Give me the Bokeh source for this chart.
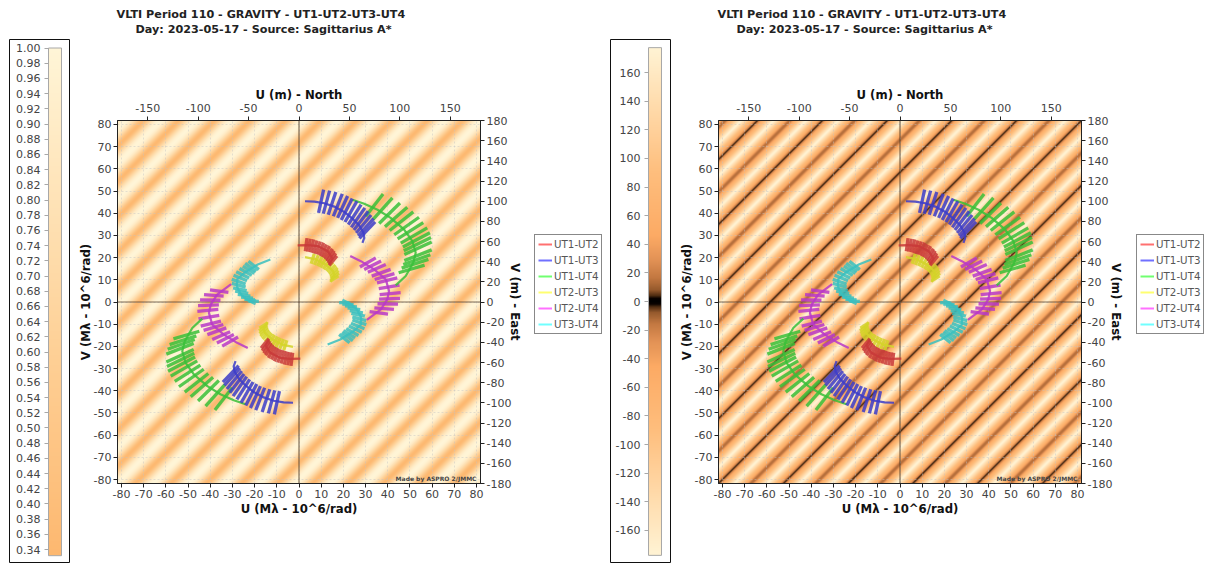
import numpy as np
from bokeh.embed import file_html
from bokeh.resources import INLINE
from bokeh.layouts import row
from bokeh.plotting import figure
from bokeh.models import (LinearAxis, Range1d, FixedTicker, Title, Span, Label, Legend, LegendItem,
                          LinearColorMapper, PrintfTickFormatter)

TITLE_LINE_1 = "VLTI Period 110 - GRAVITY - UT1-UT2-UT3-UT4"
TITLE_LINE_2 = "Day: 2023-05-17 - Source: Sagittarius A*"
BASELINES = ["UT1-UT2", "UT1-UT3", "UT1-UT4", "UT2-UT3", "UT2-UT4", "UT3-UT4"]
LINE_COLORS = ["#c83838", "#3c3cc8", "#38c038", "#d4d428", "#b838c8", "#38c0c0"]
LEGEND_COLORS = ["#ff7070", "#7070ff", "#70ff70", "#ffff70", "#ff70ff", "#70ffff"]

UV_MAX = 81.8
METRES_MAX = 180
SPECTRAL_RATIO = 1.26
AMP_RANGE = (0.332, 1.0)
AMP_VIEW = (0.3217, 1.0112)
PHASE_RANGE = (-177.5, 177.5)
PHASE_VIEW = (-183.2, 183.2)
AMP_PERIOD = 16.0
AMP_RATIO = 0.49
PHASE_PERIOD = 14.6

# Tracks (thin lines), U and V in Mlambda, one half of the symmetric coverage
TRACK_U = {
    "UT1-UT2": [-0.6, 3.9, 8.4, 12.9, 15.1, 13.6],
    "UT1-UT3": [2.7, 6.9, 11.4, 15.9, 20.4, 24.1, 27.1, 29.1, 29.4, 28.6],
    "UT1-UT4": [24.1, 29.4, 35.4, 41.3, 47.3, 51.1, 52.6, 51.5, 48.1, 43.6],
    "UT2-UT3": [2.7, 7.6, 12.1, 15.3, 16.0, 14.1],
    "UT2-UT4": [23.1, 27.9, 33.9, 39.1, 40.6, 39.8, 36.9, 30.6],
    "UT3-UT4": [19.6, 23.0, 26.1, 28.0, 27.9, 24.6, 18.6, 12.9],
}
TRACK_V = {
    "UT1-UT2": [25.5, 25.6, 25.2, 22.9, 19.6, 16.9],
    "UT1-UT3": [45.4, 45.2, 44.5, 43.0, 40.6, 37.6, 34.6, 31.2, 28.9, 26.7],
    "UT1-UT4": [46.1, 44.3, 41.6, 37.9, 32.7, 27.4, 22.2, 17.7, 11.7, 7.5],
    "UT2-UT3": [20.2, 19.2, 16.9, 14.0, 12.0, 9.1],
    "UT2-UT4": [20.7, 18.4, 14.7, 10.2, 4.9, 1.2, -3.3, -8.1],
    "UT3-UT4": [1.0, -0.7, -3.4, -7.0, -10.2, -13.2, -16.9, -19.2],
}
# Spectral bars: outer end of each bar (longest baseline / shortest wavelength)
BAR_U = {
    "UT1-UT2": [3.6, 5.1, 6.6, 8.1, 9.6, 11.1, 12.4, 13.8, 15.0, 15.9, 16.6, 17.1],
    "UT1-UT3": [11.1, 13.8, 16.6, 19.5, 21.9, 24.0, 26.1, 28.0, 29.7, 31.2, 32.5, 33.6, 34.3],
    "UT1-UT4": [37.9, 42.1, 45.5, 48.8, 51.5, 54.1, 56.0, 57.8, 59.0, 59.5, 59.8, 59.8, 59.2, 58.3, 56.6],
    "UT2-UT3": [6.9, 8.7, 10.5, 12.1, 13.8, 15.3, 16.5, 17.4, 17.8, 18.0, 17.8],
    "UT2-UT4": [34.6, 37.0, 39.1, 41.3, 43.0, 44.3, 45.3, 45.8, 45.5, 44.6, 42.8, 40.1],
    "UT3-UT4": [22.8, 24.3, 25.3, 26.8, 28.3, 29.5, 30.3, 30.3, 29.7, 28.8, 27.6, 26.1, 24.6, 22.8],
}
BAR_V = {
    "UT1-UT2": [28.8, 28.5, 28.2, 27.7, 27.3, 26.7, 25.9, 25.2, 24.1, 23.1, 22.0, 20.8],
    "UT1-UT3": [50.6, 50.2, 49.6, 48.7, 47.8, 46.6, 45.4, 43.9, 42.4, 40.9, 39.2, 37.6, 36.1],
    "UT1-UT4": [48.7, 46.9, 44.6, 42.7, 40.6, 38.2, 35.8, 33.4, 31.2, 29.1, 27.0, 23.5, 21.3, 19.2, 16.6],
    "UT2-UT3": [21.7, 21.1, 20.5, 19.6, 18.7, 17.8, 16.6, 15.4, 14.2, 13.0, 11.8],
    "UT2-UT4": [19.9, 18.5, 16.9, 14.7, 12.8, 10.9, 7.6, 4.2, 1.6, -1.0, -3.3, -5.5],
    "UT3-UT4": [-18.4, -17.4, -16.2, -15.1, -13.6, -12.1, -10.2, -8.4, -6.4, -4.9, -3.4, -2.2, -1.2, -0.4],
}

FONT = "DejaVu Sans"
AMP_TICKS = [round(0.34 + 0.02 * i, 2) for i in range(34)]
PHASE_TICKS = list(range(-160, 161, 20))
UV_TICKS = list(range(-80, 81, 10))
METRE_TOP_TICKS = list(range(-150, 151, 50))
METRE_RIGHT_TICKS = list(range(-180, 181, 20))

AMP_STOPS = [0.332, 0.6, 1.0]
AMP_STOP_RGB = [(253, 184, 112), (254, 208, 150), (255, 245, 215)]
PHASE_STOPS = [0, 2, 4, 8, 16, 28, 45, 90, 130, 180]
PHASE_STOP_RGB = [(0, 0, 0), (10, 3, 0), (80, 45, 18), (150, 90, 45), (195, 120, 65),
                  (225, 145, 85), (252, 170, 100), (254, 190, 125), (255, 215, 165), (255, 245, 215)]


def palette(xs, stops, rgb):
    arr = np.array(rgb, float)
    ch = [np.interp(xs, stops, arr[:, i]).round().astype(int) for i in range(3)]
    return ["#%02x%02x%02x" % (r, g, b) for r, g, b in zip(*ch)]


amp_mapper = LinearColorMapper(palette=palette(np.linspace(*AMP_RANGE, 256), AMP_STOPS, AMP_STOP_RGB),
                               low=AMP_RANGE[0], high=AMP_RANGE[1])
phase_xs = np.linspace(-180, 180, 1024)
phase_mapper = LinearColorMapper(palette=palette(np.abs(phase_xs), PHASE_STOPS, PHASE_STOP_RGB),
                                 low=-180, high=180)

axis_u = (np.arange(363) + 0.5) / 363 * 2 * UV_MAX - UV_MAX
U, V = np.meshgrid(axis_u, axis_u)
S = U - V
amp_img = np.sqrt(1 + AMP_RATIO**2 + 2 * AMP_RATIO * np.cos(2 * np.pi * S / AMP_PERIOD)) / (1 + AMP_RATIO)
fringe = np.round(S / PHASE_PERIOD)
phase_img = (S / PHASE_PERIOD - fringe) * 360
odd = np.mod(fringe, 2) == 1
phase_img = np.where(odd, np.sign(phase_img + 1e-9) * np.maximum(np.abs(phase_img), 14), phase_img)
phase_img = np.where(~odd & (np.abs(phase_img) < 6), 0, phase_img)


def style_axis(ax, label=None, tick_standoff=2, label_standoff=1):
    ax.axis_line_color = "#222222"
    ax.major_tick_line_color = "#222222"
    ax.major_tick_out = 4
    ax.major_tick_in = 0
    ax.minor_tick_line_color = None
    ax.major_label_text_font = FONT
    ax.major_label_text_font_size = "11px"
    ax.major_label_text_color = "#444444"
    ax.major_label_standoff = tick_standoff
    ax.formatter = PrintfTickFormatter(format="%d")
    if label:
        ax.axis_label = label
        ax.axis_label_text_font = FONT
        ax.axis_label_text_font_size = "11.7px"
        ax.axis_label_text_font_style = "bold"
        ax.axis_label_text_color = "#111111"
        ax.axis_label_standoff = label_standoff


def main_panel(image, mapper):
    p = figure(width=459, height=563, output_backend="svg", toolbar_location=None,
               x_range=Range1d(-UV_MAX, UV_MAX), y_range=Range1d(-UV_MAX, UV_MAX),
               min_border_left=46, min_border_right=50, min_border_top=120, min_border_bottom=80,
               x_axis_label=None, y_axis_label=None, outline_line_color="#111111", frame_align=False)
    p.image(image=[image], x=-UV_MAX, y=-UV_MAX, dw=2 * UV_MAX, dh=2 * UV_MAX, color_mapper=mapper, level="image")
    p.xaxis.ticker = FixedTicker(ticks=UV_TICKS)
    p.yaxis.ticker = FixedTicker(ticks=UV_TICKS)
    style_axis(p.xaxis[0], "U (M\u03bb - 10^6/rad)")
    style_axis(p.yaxis[0], "V (M\u03bb - 10^6/rad)", label_standoff=-2)
    for g in (p.xgrid[0], p.ygrid[0]):
        g.grid_line_color = "#c4c4c4"
        g.grid_line_alpha = 0.45
        g.grid_line_dash = "2 2"
    p.extra_x_ranges["m"] = Range1d(-METRES_MAX, METRES_MAX)
    p.extra_y_ranges["m"] = Range1d(-METRES_MAX, METRES_MAX)
    top = LinearAxis(x_range_name="m", ticker=FixedTicker(ticks=METRE_TOP_TICKS))
    right = LinearAxis(y_range_name="m", ticker=FixedTicker(ticks=METRE_RIGHT_TICKS))
    style_axis(top, "U (m) - North", tick_standoff=5, label_standoff=-1)
    style_axis(right, "V (m) - East", label_standoff=-6)
    p.add_layout(top, "above")
    p.add_layout(right, "right")
    p.add_layout(Title(text=" ", text_font_size="11px", standoff=34), "above")
    p.add_layout(Title(text=TITLE_LINE_2, align="left", offset=18, text_font=FONT, text_font_size="11.2px",
                       text_font_style="bold", text_color="#222222", standoff=1), "above")
    p.add_layout(Title(text=TITLE_LINE_1, align="left", offset=-1, text_font=FONT, text_font_size="11.2px",
                       text_font_style="bold", text_color="#222222", standoff=0), "above")
    for d in ("width", "height"):
        p.add_layout(Span(location=0, dimension=d, line_color="#4a3420", line_alpha=0.7, line_width=1.2, level="underlay"))
    for i in reversed(range(len(BASELINES))):
        b = BASELINES[i]
        c = LINE_COLORS[i]
        bu, bv = np.array(BAR_U[b]), np.array(BAR_V[b])
        tu, tv = np.array(TRACK_U[b]), np.array(TRACK_V[b])
        for s in (1, -1):
            p.segment(s * bu, s * bv, s * bu / SPECTRAL_RATIO, s * bv / SPECTRAL_RATIO,
                      line_color=c, line_width=3.3, line_alpha=0.85)
            p.line(s * tu, s * tv, line_color=c, line_width=2.2, line_alpha=0.85)
    p.add_layout(Label(x=80, y=-81, text="Made by ASPRO 2/JMMC", text_align="right", text_font=FONT,
                       text_font_size="6px", text_font_style="bold", text_color="#444444"))
    return p


def legend_panel(width, left):
    p = figure(width=width, height=563, output_backend="svg", toolbar_location=None,
               x_range=Range1d(0, 1), y_range=Range1d(0, 1),
               min_border_left=0, min_border_right=0, min_border_top=0, min_border_bottom=0,
               outline_line_color=None, frame_align=False)
    p.axis.visible = False
    p.grid.visible = False
    items = []
    for b, c in zip(BASELINES, LEGEND_COLORS):
        r = p.line([2, 3], [2, 3], line_color=c, line_width=2)
        items.append(LegendItem(label=b, renderers=[r]))
    leg = Legend(items=items, location=(left, 229), margin=0, padding=3, spacing=4, glyph_width=14, glyph_height=12,
                 label_height=12, label_standoff=2, label_text_font=FONT, label_text_font_size="10.3px",
                 label_text_color="#555555", border_line_color="#111111", background_fill_color="white",
                 background_fill_alpha=1)
    p.add_layout(leg)
    return p


def bar_panel(view, rng, mapper, ticks, fmt, bar_left, width, border_left):
    p = figure(width=width, height=563, output_backend="svg", toolbar_location=None,
               x_range=Range1d(0, 60), y_range=Range1d(*view),
               min_border_left=border_left, min_border_right=2, min_border_top=39, min_border_bottom=0,
               outline_line_color="#111111", frame_align=False)
    lo, hi = rng
    ramp = np.linspace(lo, hi, 1024).reshape(-1, 1)
    p.image(image=[ramp], x=bar_left, y=lo, dw=13, dh=hi - lo, color_mapper=mapper, level="image")
    p.quad(left=[bar_left], right=[bar_left + 13], bottom=[lo], top=[hi], fill_alpha=0, line_color="#a8a8a8")
    p.xaxis.visible = False
    p.grid.visible = False
    style_axis(p.yaxis[0])
    p.yaxis.ticker = FixedTicker(ticks=ticks)
    p.yaxis.formatter = PrintfTickFormatter(format=fmt)
    p.yaxis.axis_line_color = None
    p.yaxis.major_tick_line_color = "#a8a8a8"
    p.yaxis.major_label_standoff = 4
    p.yaxis.fixed_location = bar_left
    return p


fig = row(
    bar_panel(AMP_VIEW, AMP_RANGE, amp_mapper, AMP_TICKS, "%.2f", 39, 71, 9),
    main_panel(amp_img, amp_mapper),
    legend_panel(79, 4),
    bar_panel(PHASE_VIEW, PHASE_RANGE, phase_mapper, PHASE_TICKS, "%d", 38, 63, 1),
    main_panel(phase_img, phase_mapper),
    legend_panel(74, 5),
    spacing=0,
)
open("out.html", "w").write(file_html(fig, INLINE))
